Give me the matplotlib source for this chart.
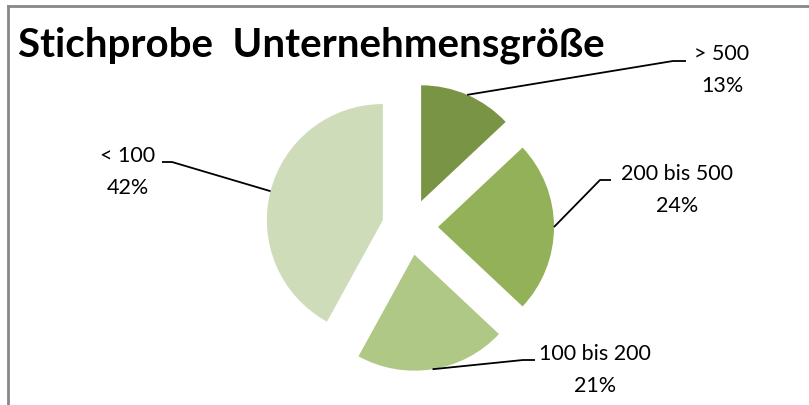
import numpy as np
import matplotlib
matplotlib.use("Agg")
import matplotlib.pyplot as plt

# Data
categories = ["> 500", "200 bis 500", "100 bis 200", "< 100"]
shares = [13, 24, 21, 42]
colors = ["#7A9446", "#93B158", "#B0C886", "#CFDCBA"]

# label layout (pixel coordinates, y from top)
elbows = [(673, 62), (600, 181), (523, 361), (172, 163)]
elbow_ends = [(686, 62), (611, 181), (535, 361), (162, 163)]
label_pos = [(722, 70), (677, 190), (595, 370), (128, 172)]

W, H = 809, 406
plt.rcParams['font.family'] = ['Lato', 'DejaVu Sans']

fig = plt.figure(figsize=(W / 100, H / 100), dpi=100)
ax = fig.add_axes([0, 0, 1, 1])

cx, cy = 410, H - 228
radius = 116
expl = 28

wedges, _ = ax.pie(shares, colors=colors, startangle=90, counterclock=False,
                   radius=radius, center=(cx, cy), explode=[expl] * len(shares),
                   wedgeprops=dict(linewidth=0))

for w, cat, val, el, ee, lp in zip(wedges, categories, shares, elbows, elbow_ends, label_pos):
    mid = np.deg2rad((w.theta1 + w.theta2) / 2)
    sx = cx + (expl + radius) * np.cos(mid)
    sy = cy + (expl + radius) * np.sin(mid)
    ax.plot([sx, el[0], ee[0]], [sy, H - el[1], H - ee[1]], color="black", lw=1.3,
            solid_capstyle="butt")
    ax.text(lp[0], H - lp[1], f"{cat}\n{val}%", ha="center", va="center",
            multialignment="center", fontsize=15.5, linespacing=1.75)

ax.text(18, H - 57, "Stichprobe  Unternehmensgröße", ha="left", va="baseline",
        fontsize=29, fontweight="bold")

# chart frame (top and left edges)
ax.plot([8, W], [H - 7, H - 7], color="#888888", lw=2)
ax.plot([8, 8], [0, H - 7], color="#888888", lw=2)

ax.set_xlim(0, W)
ax.set_ylim(0, H)
ax.set_aspect("equal")
ax.axis("off")

fig.savefig("out.png", dpi=100)
